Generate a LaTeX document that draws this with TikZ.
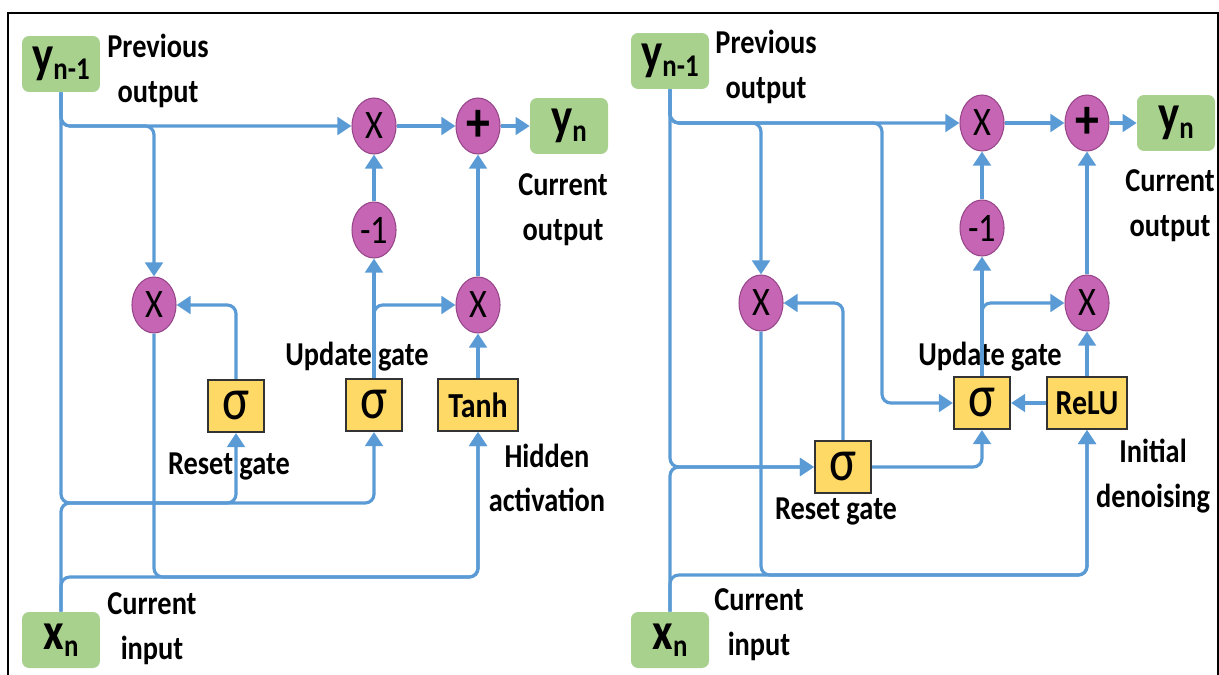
\documentclass[tikz,border=0pt]{standalone}
\usepackage{fontspec}
\setmainfont{Carlito}[FakeStretch=0.85]
\usetikzlibrary{arrows.meta,shapes.geometric}

\definecolor{wire}{HTML}{5B9BD5}
\definecolor{iofill}{HTML}{A9D18E}
\definecolor{opfill}{HTML}{C565B4}
\definecolor{opline}{HTML}{97468A}
\definecolor{gatefill}{HTML}{FFD966}

% y_{n-1}, y_n, x_n inside the green boxes
\newcommand\iolab[2]{#1\raisebox{-4pt}{\fontsize{18}{18}\selectfont #2}}

\begin{document}
\begin{tikzpicture}[x=0.02cm,y=-0.02cm,>={Triangle[length=8pt,width=10pt]},
    io/.style={fill=iofill,rounded corners=4pt,minimum width=1.56cm,minimum height=1.12cm,
               inner sep=0,font=\bfseries\fontsize{30}{30}\selectfont},
    op/.style={ellipse,fill=opfill,draw=opline,line width=0.6pt,minimum width=0.88cm,
               minimum height=1.12cm,inner sep=0,font=\fontsize{23}{23}\selectfont},
    gate/.style={fill=gatefill,draw=black!80,line width=1.2pt,minimum width=1.12cm,
                 minimum height=1.04cm,inner sep=0,font=\fontsize{34}{34}\selectfont},
    wide/.style={minimum width=1.6cm,font=\bfseries\fontsize{20}{20}\selectfont},
    note/.style={align=center,inner sep=0,font=\bfseries\fontsize{19}{25.5}\selectfont},
    flow/.style={draw,color=wire,line width=1.8pt,rounded corners=5pt,->}]

    \useasboundingbox (0,0) rectangle (1219,675);
    \draw[line width=1.2pt] (8,675) -- (8,13) -- (1218,13) -- (1218,675);

    % left cell: GRU
    \coordinate (Lcat) at (61,503);
    \coordinate (Lbot) at (61,577);

    \node[io] (Lyp) at (61,64) {\iolab{y}{n-1}};
    \node[io] (Lyn) at (569,126) {\iolab{y}{n}};
    \node[io] (Lxn) at (61,640) {\iolab{x}{n}};
    \node[op] (Lmx) at (374,126) {X};
    \node[op] (Lplus) at (478,126) {\bfseries\fontsize{32}{32}\selectfont +};
    \node[op] (Lneg) at (374,230) {-1};
    \node[op] (Lhx) at (478,305) {X};
    \node[op] (Lrx) at (154,305) {X};
    \node[gate] (Lrs) at (236,406) {σ};
    \node[gate] (Lupd) at (374,405) {σ};
    \node[gate,wide] (Ltanh) at (478,405) {Tanh};

    \node[note] (Lprev) at (158,71) {Previous\\output};
    \node[note] (Lcur) at (563,210) {Current\\output};
    \node[note] (Lupdl) at (357,357) {Update gate};
    \node[note] (Lrsl) at (229,467) {Reset gate};
    \node[note] (Lhid) at (547,478) {Hidden\\activation};
    \node[note] (Lin) at (152,629) {Current\\input};

    \draw[flow] (Lyp.south) |- (Lmx.west);
    \draw[flow] (Lyp.south) |- (Lrx |- Lmx) -- (Lrx.north);
    \draw[flow] (Lyp.south) -- (Lcat) -| (Lupd.south);
    \draw[flow] (Lxn.north) -- (Lcat) -| (Lrs.south);
    \draw[flow] (Lrs.north) |- (Lrx.east);
    \draw[flow] (Lrx.south) -- (Lrx |- Lbot) -| (Ltanh.south);
    \draw[flow] (Lxn.north) -- (Lbot) -| (Ltanh.south);
    \draw[flow] (Lupd.north) |- (Lhx.west);
    \path[flow] (Lupd) edge (Lneg)
                (Lneg) edge (Lmx)
                (Ltanh) edge (Lhx)
                (Lhx) edge (Lplus)
                (Lmx) edge (Lplus)
                (Lplus) edge (Lyn);

    % right cell: with ReLU denoising
    \coordinate (Rcat) at (670,467);
    \coordinate (Rbot) at (670,575);
    \coordinate (Rb2) at (882,123);

    \node[io] (Ryp) at (670,61) {\iolab{y}{n-1}};
    \node[io] (Ryn) at (1176,123) {\iolab{y}{n}};
    \node[io] (Rxn) at (670,640) {\iolab{x}{n}};
    \node[op] (Rmx) at (982,123) {X};
    \node[op] (Rplus) at (1087,123) {\bfseries\fontsize{32}{32}\selectfont +};
    \node[op] (Rneg) at (982,228) {-1};
    \node[op] (Rhx) at (1087,303) {X};
    \node[op] (Rrx) at (761,303) {X};
    \node[gate] (Rrs) at (843,467) {σ};
    \node[gate] (Rupd) at (982,403) {σ};
    \node[gate,wide] (Rrelu) at (1087,403) {ReLU};

    \node[note] (Rprev) at (766,67) {Previous\\output};
    \node[note] (Rcur) at (1170,206) {Current\\output};
    \node[note] (Rupdl) at (990,357) {Update gate};
    \node[note] (Rrsl) at (836,512) {Reset gate};
    \node[note] (Rini) at (1153,476) {Initial\\denoising};
    \node[note] (Rin) at (759,625) {Current\\input};

    \draw[flow] (Ryp.south) |- (Rmx.west);
    \draw[flow] (Ryp.south) |- (Rrx |- Rmx) -- (Rrx.north);
    \draw[flow] (Ryp.south) |- (Rb2) |- (Rupd.west);
    \draw[flow] (Ryp.south) -- (Rcat) -- (Rrs.west);
    \draw[flow] (Rxn.north) -- (Rcat) -- (Rrs.west);
    \draw[flow] (Rrs.north) |- (Rrx.east);
    \draw[flow] (Rrs.east) -| (Rupd.south);
    \draw[flow] (Rrx.south) -- (Rrx |- Rbot) -| (Rrelu.south);
    \draw[flow] (Rxn.north) -- (Rbot) -| (Rrelu.south);
    \draw[flow] (Rupd.north) |- (Rhx.west);
    \path[flow] (Rrelu) edge (Rupd)
                (Rupd) edge (Rneg)
                (Rneg) edge (Rmx)
                (Rrelu) edge (Rhx)
                (Rhx) edge (Rplus)
                (Rmx) edge (Rplus)
                (Rplus) edge (Ryn);
\end{tikzpicture}
\end{document}
